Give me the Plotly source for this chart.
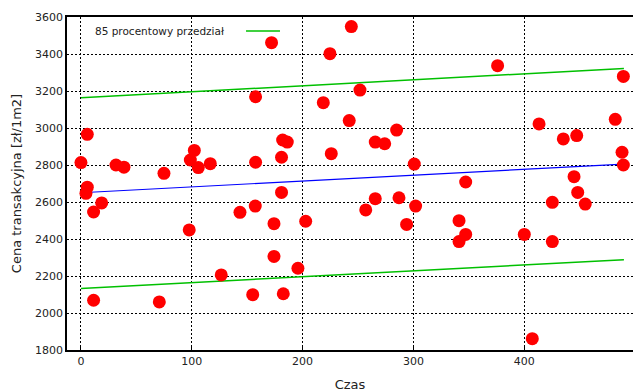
import plotly.graph_objects as go

# Scatter data: time vs transaction price
czas = [0, 5.7, 5.7, 4.5, 11.4, 18.7, 11.4, 31.6, 38.8, 74.9, 70.7, 98.7, 102.3, 105.9,
        116.7, 97.7, 126.6, 143.5, 157.3, 155, 157.6, 157.6, 172, 181, 182, 186.2, 181,
        174.2, 174.2, 182.6, 195.8, 202.8, 244, 224.7, 251.8, 218.7, 242.1, 284.9, 265.6,
        274.1, 225.9, 300.8, 265.6, 257, 287, 302, 293.9, 376, 489.5, 482.2, 413.4, 447.4,
        435.3, 488.3, 489.5, 347.2, 445, 448.3, 425.4, 455.1, 341.2, 347.2, 341.2, 400.1,
        425.4, 407.3]
cena = [2813, 2966, 2680, 2647, 2546, 2595, 2069, 2800, 2788, 2755, 2060, 2827, 2879, 2786,
        2807, 2449, 2206, 2544, 2578, 2099, 3169, 2815, 3461, 2842, 2935, 2924, 2652,
        2483, 2306, 2104, 2242, 2496, 3548, 3402, 3205, 3137, 3040, 2989, 2924,
        2915, 2861, 2805, 2618, 2557, 2623, 2578, 2479, 3337, 3279, 3047, 3022, 2959,
        2941, 2869, 2800, 2708, 2737, 2652, 2598, 2589, 2499, 2425, 2386, 2425,
        2386, 1861]

# Regression line and 85% interval
line_x = [0, 490]
fit_y = [2650, 2805]
upper_y = [3163, 3322]
lower_y = [2133, 2288]

x_ticks = [0, 100, 200, 300, 400]
y_ticks = [1800, 2000, 2200, 2400, 2600, 2800, 3000, 3200, 3400, 3600]

green = "#00c000"

fig = go.Figure()
fig.add_trace(go.Scatter(x=line_x, y=upper_y, mode="lines",
                         line=dict(color=green, width=1.5), showlegend=False))
fig.add_trace(go.Scatter(x=line_x, y=lower_y, mode="lines",
                         line=dict(color=green, width=1.5), showlegend=False))
fig.add_trace(go.Scatter(x=line_x, y=fit_y, mode="lines",
                         line=dict(color="#0000ff", width=1.2), showlegend=False))
fig.add_trace(go.Scatter(x=czas, y=cena, mode="markers", cliponaxis=False,
                         marker=dict(color="#ff0000", size=13), showlegend=False))

font = dict(family="DejaVu Sans", size=11, color="#222222")

# legend (gnuplot style: text then sample)
fig.add_annotation(xref="paper", yref="paper", x=0.281, y=0.958, xanchor="right",
                   yanchor="middle", text="85 procentowy przedział", showarrow=False,
                   font=dict(family="DejaVu Sans", size=10.5, color="#222222"))
fig.add_shape(type="line", xref="paper", yref="paper", x0=0.3163, x1=0.3763,
              y0=0.958, y1=0.958, line=dict(color=green, width=1.5))

fig.update_layout(
    width=633, height=392,
    margin=dict(l=67, r=0, t=17, b=42),
    plot_bgcolor="white", paper_bgcolor="white",
    font=font,
)
fig.update_xaxes(range=[-12.6, 498.2], tickvals=x_ticks, showgrid=True,
                 gridcolor="#000000", griddash="2px,2px", gridwidth=1,
                 showline=True, linecolor="#000000", linewidth=1.5, mirror=True,
                 zeroline=False, ticks="inside", ticklen=5, tickcolor="#000000",
                 automargin=False,
                 title=dict(text="Czas", standoff=14))
fig.update_yaxes(range=[1800, 3600], tickvals=y_ticks, showgrid=True,
                 gridcolor="#000000", griddash="2px,2px", gridwidth=1,
                 showline=True, linecolor="#000000", linewidth=1.5,
                 zeroline=False, ticks="", automargin=False,
                 title=dict(text="Cena transakcyjna [zł/1m2]", standoff=10))

fig.write_html("out.html", config={"displayModeBar": False},
               post_script="document.body.style.margin='0';")
